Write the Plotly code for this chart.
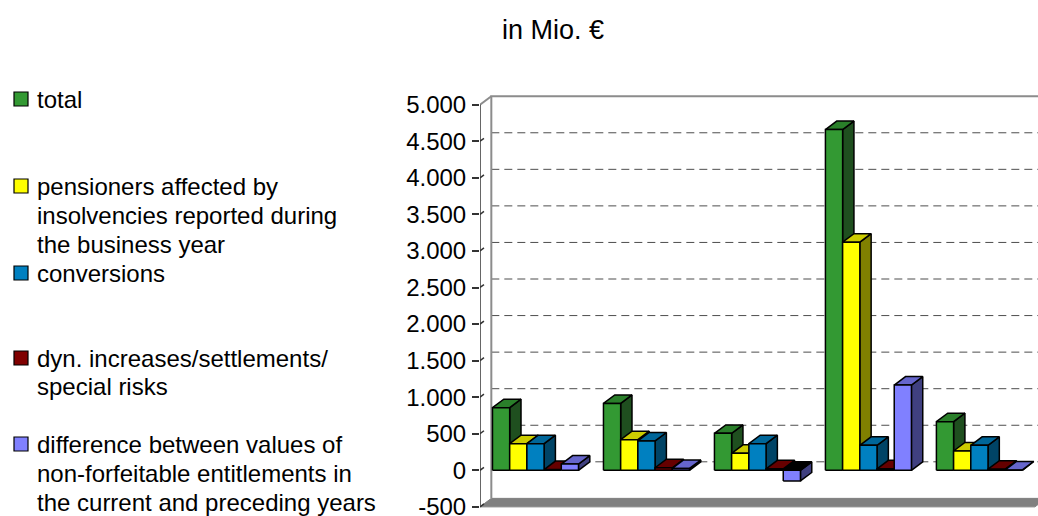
import plotly.graph_objects as go

# ---- data (Mio. €) ----
series_labels = [
    ["total"],
    ["pensioners affected by", "insolvencies reported during", "the business year"],
    ["conversions"],
    ["dyn. increases/settlements/", "special risks"],
    ["difference between values of", "non-forfeitable entitlements in",
     "the current and preceding years"],
]
total = [856, 915, 505, 4660, 665]
pensioners = [364, 419, 232, 3120, 264]
conversions = [364, 401, 364, 342, 342]
dyn_increases = [10, 35, 20, 20, 15]
difference = [85, 25, -146, 1166, 5]
series_values = [total, pensioners, conversions, dyn_increases, difference]

tick_values = [-500, 0, 500, 1000, 1500, 2000, 2500, 3000, 3500, 4000, 4500, 5000]
tick_text = ["-500", "0", "500", "1.000", "1.500", "2.000", "2.500", "3.000",
             "3.500", "4.000", "4.500", "5.000"]

# ---- style ----
# (front, top, side) shades for each series
shades = [
    ("#339933", "#2a7f2a", "#1f4f1f"),
    ("#ffff00", "#cccc00", "#808000"),
    ("#0080c0", "#006699", "#004466"),
    ("#800000", "#660000", "#400000"),
    ("#8080ff", "#6666cc", "#404080"),
]
FONT = "Liberation Sans, Arial, sans-serif"
FONT_SIZE = 24
BAR_W = 0.155          # bar width in category units
DX, DY = 0.102, 116    # 3-D depth offset (x units, y units)
X_MIN, X_MAX = -0.5, 4.528
Y_MIN, Y_MAX = -543, 5201
FLOOR = -500
n_groups = len(total)

# page / plot-area geometry in pixels
W, H = 1038, 516
M_L, M_R, M_T, M_B = 480, 0, 90, 6
PLOT_W, PLOT_H = W - M_L - M_R, H - M_T - M_B

# legend layout (pixels from the top-left of the page)
LEG_TEXT_X = 36
LEG_SWATCH_CX = 21
LEG_SWATCH = 14
LEG_ITEM_Y = [99, 186, 273, 358, 444]
LEG_LINE_STEP = 29


def px_to_paper_x(px):
    return (px - M_L) / PLOT_W


def px_to_paper_y(py):
    return (H - M_B - py) / PLOT_H


fig = go.Figure()

# floor of the 3-D box
fig.add_trace(go.Scatter(
    x=[X_MIN, X_MIN + n_groups, X_MIN + n_groups + DX, X_MIN + DX, X_MIN],
    y=[FLOOR, FLOOR, FLOOR + DY, FLOOR + DY, FLOOR],
    mode="lines", fill="toself", fillcolor="#808080",
    line=dict(color="#808080", width=1), showlegend=False, hoverinfo="skip"))

# dashed gridlines on the back wall
gx, gy = [], []
for v in tick_values[1:-1]:
    gx += [X_MIN + DX, X_MAX + 1, None]
    gy += [v + DY, v + DY, None]
fig.add_trace(go.Scatter(x=gx, y=gy, mode="lines",
                         line=dict(color="#4d4d4d", width=1, dash="8px,5px"),
                         showlegend=False, hoverinfo="skip"))

# back wall edges
fig.add_trace(go.Scatter(
    x=[X_MIN + DX, X_MIN + DX, X_MAX + 1, None, X_MIN, X_MIN + DX],
    y=[FLOOR + DY, tick_values[-1] + DY, tick_values[-1] + DY, None,
       tick_values[-1], tick_values[-1] + DY],
    mode="lines", line=dict(color="#8c8c8c", width=2),
    showlegend=False, hoverinfo="skip"))

# 3-D columns: side, top and front faces per series
for k, (vals, (c_front, c_top, c_side)) in enumerate(zip(series_values, shades)):
    sx, sy, tx, ty, fx, fy = [], [], [], [], [], []
    neg_tx, neg_ty = [], []
    for g, v in enumerate(vals):
        xl = g - 2.5 * BAR_W + k * BAR_W
        xr = xl + BAR_W
        y0, y1 = min(0, v), max(0, v)
        sx += [xr, xr + DX, xr + DX, xr, xr, None]
        sy += [y0, y0 + DY, y1 + DY, y1, y0, None]
        top_x = [xl, xr, xr + DX, xl + DX, xl, None]
        top_y = [y1, y1, y1 + DY, y1 + DY, y1, None]
        if v < 0:
            neg_tx += top_x
            neg_ty += top_y
        else:
            tx += top_x
            ty += top_y
        fx += [xl, xr, xr, xl, xl, None]
        fy += [y0, y0, y1, y1, y0, None]
    name = " ".join(series_labels[k])
    for xs, ys, col in ((sx, sy, c_side), (tx, ty, c_top),
                        (neg_tx, neg_ty, "#000000"), (fx, fy, c_front)):
        if not xs:
            continue
        fig.add_trace(go.Scatter(x=xs, y=ys, mode="lines", fill="toself", name=name,
                                 fillcolor=col, line=dict(color="black", width=1.5),
                                 showlegend=False, hoverinfo="skip"))

# front value axis with 3-D tick slashes
ax_x, ax_y = [X_MIN, X_MIN, None], [FLOOR, tick_values[-1], None]
for v in tick_values[:-1]:
    ax_x += [X_MIN, X_MIN + DX * 0.35, None]
    ax_y += [v, v + DY * 0.35, None]
fig.add_trace(go.Scatter(x=ax_x, y=ax_y, mode="lines",
                         line=dict(color="#333333", width=1.5),
                         showlegend=False, hoverinfo="skip", cliponaxis=False))

# legend: coloured swatches with wrapped labels
shapes, annotations = [], []
for lines, (c_front, _, _), y0 in zip(series_labels, shades, LEG_ITEM_Y):
    half = LEG_SWATCH / 2
    shapes.append(dict(
        type="rect", xref="paper", yref="paper",
        x0=px_to_paper_x(LEG_SWATCH_CX - half), x1=px_to_paper_x(LEG_SWATCH_CX + half),
        y0=px_to_paper_y(y0 + half), y1=px_to_paper_y(y0 - half),
        fillcolor=c_front, line=dict(color="black", width=1.2)))
    for i, line in enumerate(lines):
        annotations.append(dict(
            text=line, xref="paper", yref="paper",
            x=px_to_paper_x(LEG_TEXT_X), y=px_to_paper_y(y0 + i * LEG_LINE_STEP),
            xanchor="left", yanchor="middle", showarrow=False, borderpad=0,
            font=dict(family=FONT, size=FONT_SIZE, color="black")))

fig.update_layout(
    width=W, height=H,
    margin=dict(l=M_L, r=M_R, t=M_T, b=M_B, autoexpand=False),
    paper_bgcolor="white", plot_bgcolor="white",
    font=dict(family=FONT, size=FONT_SIZE, color="black"),
    title=dict(text="in Mio. €", x=553 / W, xref="container", xanchor="center",
               y=1 - 30 / H, yref="container", yanchor="middle",
               font=dict(family=FONT, size=27, color="black")),
    showlegend=False,
    shapes=shapes,
    annotations=annotations,
    xaxis=dict(range=[X_MIN, X_MAX], visible=False, fixedrange=True),
    yaxis=dict(range=[Y_MIN, Y_MAX], tickvals=tick_values, ticktext=tick_text,
               ticks="outside", ticklen=7, tickcolor="#333333", tickwidth=1.5,
               showline=False, showgrid=False, zeroline=False, automargin=False,
               ticklabelstandoff=1, ticklabeloverflow="allow", fixedrange=True,
               tickfont=dict(family=FONT, size=FONT_SIZE, color="black")),
)

fig.write_html("out.html")
